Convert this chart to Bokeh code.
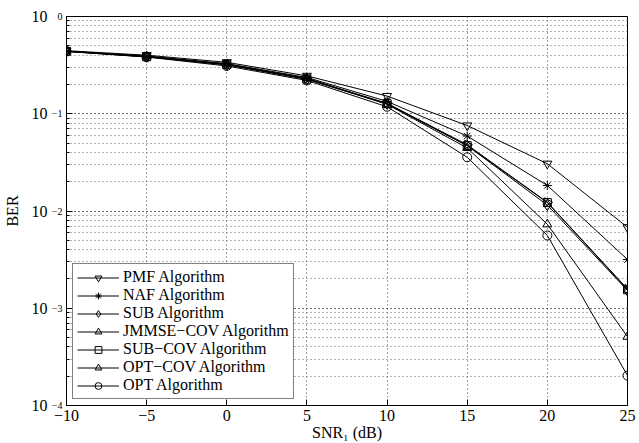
import math
from bokeh.plotting import figure
from bokeh.models import (LogTicker, FixedTicker, Legend, LegendItem, LogAxis)
from bokeh.embed import file_html
from bokeh.resources import INLINE

snr = [-10, -5, 0, 5, 10, 15, 20, 25]
pmf = [0.445, 0.400, 0.338, 0.245, 0.152, 0.0757, 0.0306, 0.0068]
naf = [0.440, 0.392, 0.328, 0.236, 0.134, 0.0590, 0.0183, 0.00317]
sub = [0.438, 0.385, 0.318, 0.226, 0.126, 0.0470, 0.0115, 0.00152]
jmmse = [0.440, 0.388, 0.322, 0.229, 0.128, 0.0480, 0.0123, 0.00158]
subcov = [0.439, 0.386, 0.320, 0.227, 0.127, 0.0470, 0.0122, 0.00155]
optcov = [0.440, 0.390, 0.323, 0.232, 0.125, 0.0445, 0.0073, 0.00051]
opt = [0.437, 0.383, 0.310, 0.220, 0.118, 0.0357, 0.0056, 0.000203]

names = ["PMF Algorithm", "NAF Algorithm", "SUB Algorithm", "JMMSE\u2212COV Algorithm",
         "SUB\u2212COV Algorithm", "OPT\u2212COV Algorithm", "OPT Algorithm"]
series = [pmf, naf, sub, jmmse, subcov, optcov, opt]
markers = ["inverted_triangle", "asterisk", "diamond", "triangle", "square", "triangle", "circle"]
angles = [0, 0, 0, -math.pi / 2, 0, 0, 0]
sizes = [9, 9, 11, 9, 8, 9, 9]

x_ticks = [-10, -5, 0, 5, 10, 15, 20, 25]
y_ticks = [1e-4, 1e-3, 1e-2, 1e-1, 1]
y_exponents = ["\u22124", "\u22123", "\u22122", "\u22121", "0"]

FONT = "Liberation Serif"

p = figure(width=639, height=443, y_axis_type="log", x_range=(-10, 25), y_range=(1e-4, 1),
           output_backend="svg", toolbar_location=None,
           min_border_left=66, min_border_right=12, min_border_top=16, min_border_bottom=38)
p.background_fill_color = "white"
p.border_fill_color = "white"
p.outline_line_color = "black"
p.outline_line_width = 1

p.xaxis.ticker = FixedTicker(ticks=x_ticks)
p.yaxis.ticker = LogTicker(num_minor_ticks=10)
for ax in (p.xaxis[0], p.yaxis[0]):
    ax.major_tick_in = 6
    ax.major_tick_out = 0
    ax.minor_tick_in = 3
    ax.minor_tick_out = 0
    ax.axis_line_color = "black"
    ax.major_tick_line_color = "black"
    ax.minor_tick_line_color = "black"
    ax.major_label_text_font = FONT
    ax.major_label_text_font_size = "16px"
    ax.major_label_text_color = "black"
    ax.axis_label_text_font = FONT
    ax.axis_label_text_font_size = "16px"
    ax.axis_label_text_font_style = "normal"
    ax.axis_label_text_color = "black"
p.xaxis.minor_tick_line_color = None
p.xaxis.axis_label = "SNR\u2081 (dB)"
p.xaxis.major_label_standoff = 4
p.xaxis.axis_label_standoff = 0

# inner left axis: exponents (superscripts)
yax = p.yaxis[0]
yax.major_label_overrides = {t: e for t, e in zip(y_ticks, y_exponents)}
yax.major_label_text_font_size = "10px"
yax.major_label_text_baseline = "bottom"
yax.major_label_standoff = 4

# outer left axis: mantissa "10" and axis title
ax10 = LogAxis(ticker=LogTicker(num_minor_ticks=10),
               major_label_overrides={t: "10" for t in y_ticks},
               major_label_text_font=FONT, major_label_text_font_size="16px",
               major_label_text_color="black", major_label_standoff=1,
               axis_line_color=None, major_tick_line_color=None, minor_tick_line_color=None,
               major_tick_in=0, major_tick_out=0, minor_tick_in=0, minor_tick_out=0,
               axis_label="BER", axis_label_text_font=FONT, axis_label_text_font_size="16px",
               axis_label_text_font_style="normal", axis_label_text_color="black",
               axis_label_standoff=8)
p.add_layout(ax10, "left")

p.xgrid.ticker = FixedTicker(ticks=x_ticks)
p.xgrid.grid_line_color = "#444444"
p.xgrid.grid_line_dash = "1 3"
p.ygrid.grid_line_color = "#444444"
p.ygrid.grid_line_dash = "1 3"
p.ygrid.minor_grid_line_color = "#666666"
p.ygrid.minor_grid_line_dash = "1 3"

items = []
for name, ys, mk, ang, sz in zip(names, series, markers, angles, sizes):
    ln = p.line(snr, ys, line_color="black", line_width=1)
    sc = p.scatter(snr, ys, marker=mk, size=sz, angle=ang, line_color="black",
                   fill_color="white", fill_alpha=0, line_width=1)
    items.append(LegendItem(label=name, renderers=[ln, sc]))

legend = Legend(items=items, location="bottom_left", margin=6, padding=4, spacing=0,
                label_standoff=4, glyph_width=42, glyph_height=17, label_height=17,
                label_text_font=FONT, label_text_font_size="16px", label_text_color="black",
                border_line_color="black", border_line_width=1, background_fill_alpha=1)
p.add_layout(legend, "center")

open("out.html", "w").write(file_html(p, INLINE))
